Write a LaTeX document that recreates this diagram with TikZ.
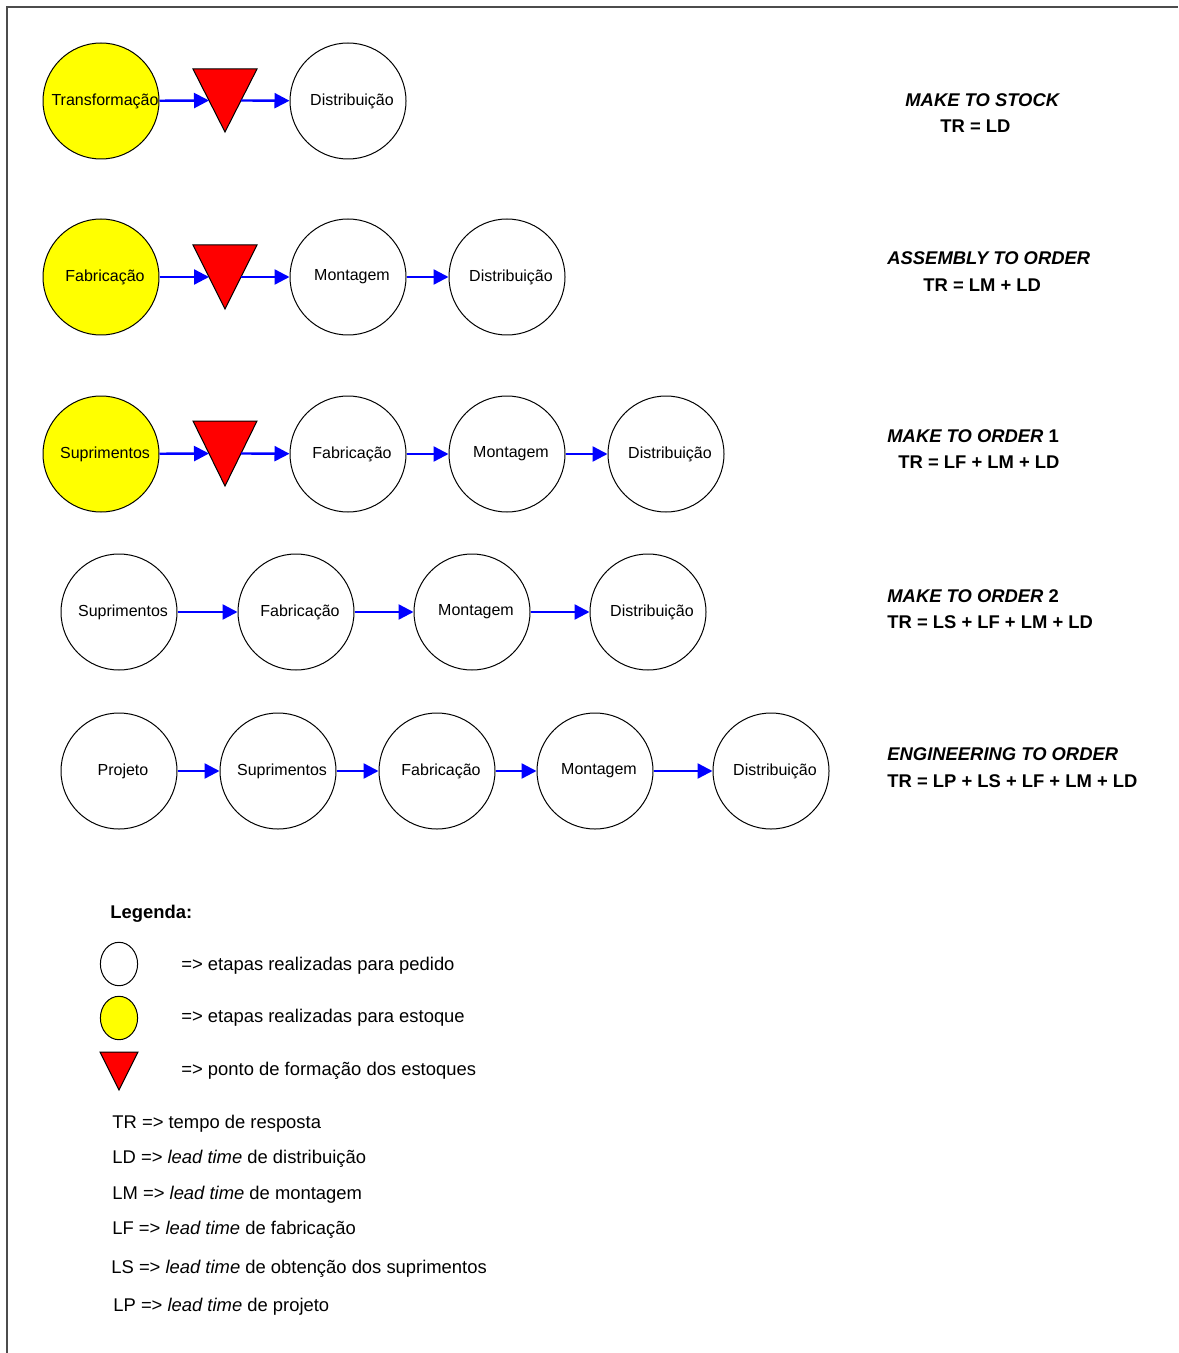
\documentclass[tikz,border=0pt]{standalone}
\usepackage{fontspec}
\setmainfont{Liberation Sans}
\usetikzlibrary{arrows.meta,calc,shapes.geometric}
\definecolor{stockyellow}{RGB}{255,255,0}
\definecolor{bufferred}{RGB}{255,0,0}
\definecolor{flowblue}{RGB}{0,0,255}
\begin{document}
\begin{tikzpicture}[x=0.5pt,y=-0.5pt,
  stage/.style={circle,draw=black,line width=0.5pt,fill=white,minimum size=58pt,inner sep=0pt,
    font=\fontsize{8}{9.6}\selectfont,execute at begin node=\hspace*{4pt}},
  stock/.style={stage,fill=stockyellow},
  flow/.style={draw=flowblue,line width=1.2pt,-{Triangle[length=7.5pt,width=7.5pt]}},
  buffer/.style={fill=bufferred,draw=black,line width=0.5pt,line join=miter},
  title/.style={anchor=base west,inner sep=0pt,font=\fontsize{9.2}{11}\selectfont\bfseries},
  note/.style={anchor=base west,inner sep=0pt,font=\fontsize{9.2}{11}\selectfont},
  keyshape/.style={ellipse,draw=black,line width=0.5pt,minimum width=18.6pt,minimum height=21.7pt,inner sep=0pt}]
\useasboundingbox (0,0) rectangle (1178,1353);
% frame
\draw[black!70,line width=0.8pt] (7,1353) -- (7,7) -- (1178,7);

% ---------- row 1: make to stock ----------
\node[stock] (r1a) at (101,101) {Transformação};
\node[stage] (r1b) at (348,101) {Distribuição};
\coordinate (r1p) at (193,69); \coordinate (r1q) at (257,69); \coordinate (r1r) at (225,132);
\draw[buffer] (r1p) -- (r1q) -- (r1r) -- cycle;
\coordinate (r1in) at ($(r1p)!0.5!(r1r)$);
\coordinate (r1out) at ($(r1q)!0.5!(r1r)$);
\draw[flow] (r1a) -- (r1in);
\draw[flow] (r1out) -- (r1b);

% ---------- row 2: assembly to order ----------
\node[stock] (r2a) at (101,277) {Fabricação};
\node[stage] (r2b) at (348,277) {Montagem};
\node[stage] (r2c) at (507,277) {Distribuição};
\coordinate (r2p) at (193,245); \coordinate (r2q) at (257,245); \coordinate (r2r) at (225,309);
\draw[buffer] (r2p) -- (r2q) -- (r2r) -- cycle;
\coordinate (r2in) at ($(r2p)!0.5!(r2r)$);
\coordinate (r2out) at ($(r2q)!0.5!(r2r)$);
\draw[flow] (r2a) -- (r2in);
\draw[flow] (r2out) -- (r2b);
\draw[flow] (r2b) -- (r2c);

% ---------- row 3: make to order 1 ----------
\node[stock] (r3a) at (101,454) {Suprimentos};
\node[stage] (r3b) at (348,454) {Fabricação};
\node[stage] (r3c) at (507,454) {Montagem};
\node[stage] (r3d) at (666,454) {Distribuição};
\coordinate (r3p) at (193,421); \coordinate (r3q) at (257,421); \coordinate (r3r) at (225,486);
\draw[buffer] (r3p) -- (r3q) -- (r3r) -- cycle;
\coordinate (r3in) at ($(r3p)!0.5!(r3r)$);
\coordinate (r3out) at ($(r3q)!0.5!(r3r)$);
\draw[flow] (r3a) -- (r3in);
\draw[flow] (r3out) -- (r3b);
\draw[flow] (r3b) -- (r3c);
\draw[flow] (r3c) -- (r3d);

% ---------- row 4: make to order 2 ----------
\node[stage] (r4a) at (119,612) {Suprimentos};
\node[stage] (r4b) at (296,612) {Fabricação};
\node[stage] (r4c) at (472,612) {Montagem};
\node[stage] (r4d) at (648,612) {Distribuição};
\draw[flow] (r4a) -- (r4b);
\draw[flow] (r4b) -- (r4c);
\draw[flow] (r4c) -- (r4d);

% ---------- row 5: engineering to order ----------
\node[stage] (r5a) at (119,771) {Projeto};
\node[stage] (r5b) at (278,771) {Suprimentos};
\node[stage] (r5c) at (437,771) {Fabricação};
\node[stage] (r5d) at (595,771) {Montagem};
\node[stage] (r5e) at (771,771) {Distribuição};
\draw[flow] (r5a) -- (r5b);
\draw[flow] (r5b) -- (r5c);
\draw[flow] (r5c) -- (r5d);
\draw[flow] (r5d) -- (r5e);

% ---------- strategy names and response times ----------
\node[title] (h1) at (905,107) {\itshape MAKE TO STOCK};
\node[title] (f1) at (940,133) {TR = LD};
\node[title] (h2) at (887,265) {\itshape ASSEMBLY TO ORDER};
\node[title] (f2) at (923,292) {TR = LM + LD};
\node[title] (h3) at (887,442) {\textit{MAKE TO ORDER} 1};
\node[title] (f3) at (898,468) {TR = LF + LM + LD};
\node[title] (h4) at (887,602) {\textit{MAKE TO ORDER} 2};
\node[title] (f4) at (887,628) {TR = LS + LF + LM + LD};
\node[title] (h5) at (887,760) {\itshape ENGINEERING TO ORDER};
\node[title] (f5) at (887,787) {TR = LP + LS + LF + LM + LD};

% ---------- legend ----------
\node[title] (lg) at (110,918) {Legenda:};
\node[keyshape,fill=white] (k1) at (119,964) {};
\node[keyshape,fill=stockyellow] (k2) at (119,1018) {};
\coordinate (k3p) at (100,1052); \coordinate (k3q) at (138,1052); \coordinate (k3r) at (119,1090);
\draw[buffer] (k3p) -- (k3q) -- (k3r) -- cycle;
\node[note] (t1) at (181,970) {=> etapas realizadas para pedido};
\node[note] (t2) at (181,1022) {=> etapas realizadas para estoque};
\node[note] (t3) at (181,1075) {=> ponto de formação dos estoques};

\node[note] (n1) at (112,1128) {TR => tempo de resposta};
\node[note] (n2) at (112,1163) {LD => \textit{lead time} de distribuição};
\node[note] (n3) at (112,1199) {LM => \textit{lead time} de montagem};
\node[note] (n4) at (112,1234) {LF => \textit{lead time} de fabricação};
\node[note] (n5) at (111,1273) {LS => \textit{lead time} de obtenção dos suprimentos};
\node[note] (n6) at (113,1311) {LP => \textit{lead time} de projeto};
\end{tikzpicture}
\end{document}
